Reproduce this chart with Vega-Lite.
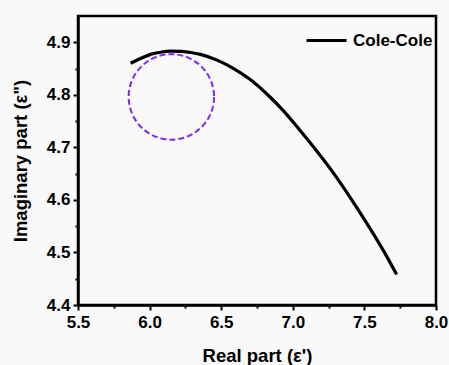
{
  "$schema": "https://vega.github.io/schema/vega-lite/v6.json",
  "width": 358,
  "height": 289,
  "autosize": {"type": "none"},
  "padding": {"left": 78, "top": 16, "right": 13, "bottom": 60},
  "background": "#f9f9f9",
  "config": {
    "font": "Liberation Sans",
    "view": {"stroke": "black", "strokeWidth": 2.5},
    "axis": {
      "domainColor": "black",
      "domainWidth": 2.5,
      "tickColor": "black",
      "tickWidth": 2,
      "tickSize": 5,
      "grid": false,
      "labelFont": "Liberation Sans",
      "labelFontWeight": "bold",
      "labelFontSize": 17,
      "labelColor": "black",
      "titleFont": "Liberation Sans",
      "titleFontWeight": "bold",
      "titleFontSize": 18.5,
      "titleColor": "black"
    }
  },
  "datasets": {
    "curve": [
      {"re": 5.867, "im": 4.860},
      {"re": 5.937, "im": 4.869},
      {"re": 6.007, "im": 4.877},
      {"re": 6.076, "im": 4.881},
      {"re": 6.146, "im": 4.883},
      {"re": 6.216, "im": 4.8827},
      {"re": 6.286, "im": 4.8805},
      {"re": 6.355, "im": 4.877},
      {"re": 6.471, "im": 4.866},
      {"re": 6.587, "im": 4.850},
      {"re": 6.703, "im": 4.829},
      {"re": 6.819, "im": 4.8015},
      {"re": 6.935, "im": 4.7695},
      {"re": 7.051, "im": 4.732},
      {"re": 7.167, "im": 4.693},
      {"re": 7.284, "im": 4.651},
      {"re": 7.400, "im": 4.605},
      {"re": 7.516, "im": 4.556},
      {"re": 7.632, "im": 4.504},
      {"re": 7.725, "im": 4.458}
    ],
    "circle": [{"re": 6.152, "im": 4.796}]
  },
  "layer": [
    {
      "data": {"name": "curve"},
      "mark": {"type": "line", "strokeWidth": 3.2, "interpolate": "monotone", "strokeCap": "butt"},
      "encoding": {
        "x": {
          "field": "re", "type": "quantitative",
          "scale": {"domain": [5.5, 8.0], "nice": false, "zero": false},
          "axis": {"values": [5.5, 6.0, 6.5, 7.0, 7.5, 8.0], "format": ".1f", "labelPadding": 4, "title": "Real part (ε')", "titlePadding": 16, "labelFlush": false}
        },
        "y": {
          "field": "im", "type": "quantitative",
          "scale": {"domain": [4.4, 4.95], "nice": false, "zero": false},
          "axis": {"values": [4.4, 4.5, 4.6, 4.7, 4.8, 4.9], "format": ".1f", "labelPadding": 3, "title": "Imaginary part (ε\")", "titlePadding": 16, "labelFlush": false}
        },
        "color": {
          "datum": "Cole-Cole", "type": "nominal",
          "scale": {"range": ["black"]},
          "legend": {
            "title": null, "orient": "top-right", "offset": 3, "padding": 0,
            "symbolType": "stroke", "symbolSize": 1600, "symbolStrokeWidth": 3,
            "labelFont": "Liberation Sans", "labelFontWeight": "bold", "labelFontSize": 17, "labelColor": "black",
            "labelOffset": 5
          }
        }
      }
    },
    {
      "data": {"name": "circle"},
      "mark": {"type": "point", "shape": "circle", "size": 7300, "filled": false, "stroke": "#7B2AF2", "strokeWidth": 2, "strokeDash": [6, 3], "opacity": 1},
      "encoding": {
        "x": {
          "field": "re", "type": "quantitative",
          "axis": {"orient": "bottom", "values": [5.75, 6.25, 6.75, 7.25, 7.75], "labels": false, "tickSize": 3, "domain": false, "title": null}
        },
        "y": {
          "field": "im", "type": "quantitative",
          "axis": {"orient": "left", "values": [4.45, 4.55, 4.65, 4.75, 4.85], "labels": false, "tickSize": 3, "domain": false, "title": null}
        }
      }
    }
  ],
  "resolve": {"axis": {"x": "independent", "y": "independent"}}
}
